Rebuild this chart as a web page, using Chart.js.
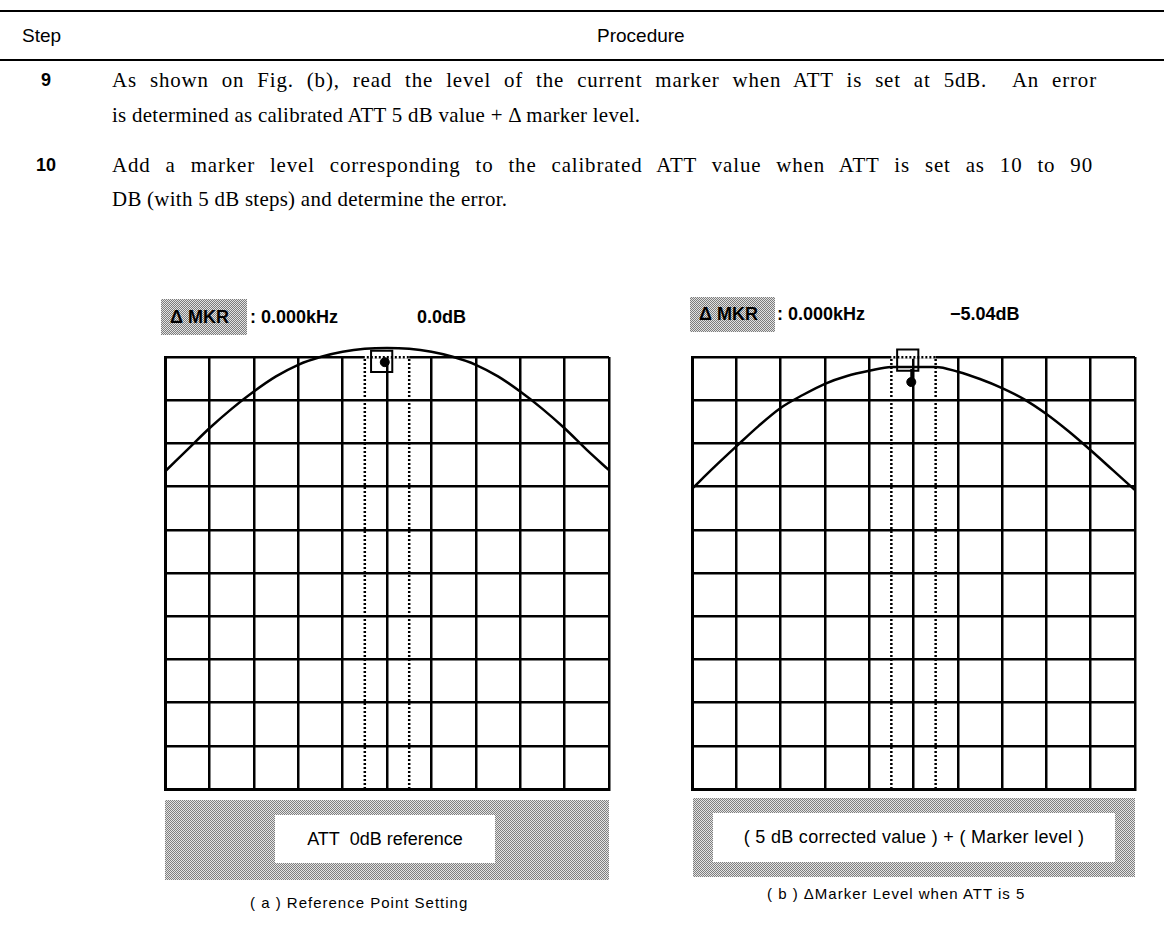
<!DOCTYPE html>
<html>
<head>
<meta charset="utf-8">
<script src="https://cdn.jsdelivr.net/npm/chart.js@4.4.1/dist/chart.umd.min.js"></script>
<style>
  body { margin: 0; background: #fff; width: 1164px; height: 941px; position: relative; overflow: hidden;
         font-family: "Liberation Sans", Arial, sans-serif; color: #000; }
  .t { position: absolute; white-space: nowrap; line-height: 1; }
  .rule { position: absolute; left: 0; width: 1164px; height: 2px; background: #000; }
  .serif { font-family: "Liberation Serif", "Times New Roman", serif; font-size: 22px; transform-origin: 0 50%;
           transform: scaleX(0.95); letter-spacing: 0.3px; }
  .fit { letter-spacing: 0.9px; }
  .num { font-weight: bold; font-size: 18px; }
  .hdr { font-weight: bold; font-size: 18px; }
  .hl { position: absolute; background-color: #c0c0c0;
        background-image: repeating-conic-gradient(#7c7c7c 0 25%, #e2e2e2 0 50%);
        background-size: 2px 2px; }
  .band { position: absolute; background-color: #b0b0b0;
          background-image: repeating-conic-gradient(#7f7f7f 0 25%, #e4e4e4 0 50%);
          background-size: 2px 2px; }
  .box { position: absolute; background: #fff; display: flex; align-items: center; justify-content: center;
         font-size: 18px; white-space: nowrap; }
  .cap { font-size: 15px; letter-spacing: 1px; }
  canvas { position: absolute; }
</style>
</head>
<body>
  <div class="rule" style="top:10px"></div>
  <div class="t" style="left:22px; top:26px; font-size:19px">Step</div>
  <div class="t" style="left:597px; top:26px; font-size:19px">Procedure</div>
  <div class="rule" style="top:59px"></div>

  <div class="t num" style="left:41px; top:71px">9</div>
  <div class="t serif fit" data-w="985" style="left:112px; top:69px">As shown on Fig. (b), read the level of the current marker when ATT is set at 5dB.&nbsp; An error</div>
  <div class="t serif" style="left:112px; top:104px">is determined as calibrated ATT 5 dB value + Δ marker level.</div>
  <div class="t num" style="left:36px; top:156px">10</div>
  <div class="t serif fit" data-w="981" style="left:112px; top:154px">Add a marker level corresponding to the calibrated ATT value when ATT is set as 10 to 90</div>
  <div class="t serif" style="left:112px; top:188px">DB (with 5 dB steps) and determine the error.</div>

  <!-- marker readouts -->
  <div class="hl" style="left:161px; top:299px; width:86px; height:36px"></div>
  <div class="t hdr" style="left:170px; top:308px">Δ MKR</div>
  <div class="t hdr" style="left:250px; top:308px">: 0.000kHz</div>
  <div class="t hdr" style="left:417px; top:308px">0.0dB</div>

  <div class="hl" style="left:690px; top:297px; width:85px; height:35px"></div>
  <div class="t hdr" style="left:699px; top:305px">Δ MKR</div>
  <div class="t hdr" style="left:777px; top:305px">: 0.000kHz</div>
  <div class="t hdr" style="left:950px; top:305px">−5.04dB</div>

  <canvas id="scopeA" width="490" height="490" style="left:140px; top:320px"></canvas>
  <canvas id="scopeB" width="490" height="490" style="left:670px; top:320px"></canvas>

  <div class="band" style="left:165px; top:800px; width:444px; height:80px"></div>
  <div class="box" style="left:275px; top:815px; width:220px; height:48px">ATT&nbsp; 0dB reference</div>
  <div class="band" style="left:693px; top:798px; width:442px; height:79px"></div>
  <div class="box" style="left:713px; top:813px; width:402px; height:49px; letter-spacing:0.3px">( 5 dB corrected value ) + ( Marker level )</div>

  <div class="t cap" style="left:250px; top:895px">( a ) Reference Point Setting</div>
  <div class="t cap" style="left:767px; top:886px">( b ) ΔMarker Level when ATT is 5</div>

<script>
// horizontal divisions (0..10) and trace levels in divisions
const divs = [0, 0.5, 1, 1.5, 2, 2.5, 3, 3.5, 4, 4.5, 5, 5.5, 6, 6.5, 7, 7.5, 8, 8.5, 9, 9.5, 10];
const traceA = [7.35, 7.85, 8.35, 8.8, 9.2, 9.55, 9.82, 10.0, 10.12, 10.19, 10.21,
                10.19, 10.12, 10.0, 9.82, 9.55, 9.2, 8.8, 8.35, 7.85, 7.38];
const traceB = [6.95, 7.45, 7.93, 8.4, 8.82, 9.12, 9.38, 9.56, 9.68, 9.77, 9.77,
                9.77, 9.66, 9.49, 9.28, 9.02, 8.68, 8.28, 7.84, 7.38, 6.92];
const gridTicks = [0, 1, 2, 3, 4, 5, 6, 7, 8, 9, 10];
const dottedX = [4.5, 5.5];

// marker box + marker dot (x div, y div)
const boxA = [4.88, 9.9];
const dotA = [4.95, 9.88];
const boxB = [4.87, 9.93];
const dotB = [4.95, 9.42];
const stemB = [9.72, 9.42];

// justified lines: widen word gaps so the line spans the scanned width
function fitText() {
  document.querySelectorAll('.fit').forEach(el => {
    const w = el.getBoundingClientRect().width;
    const gaps = el.textContent.split(/\s/).length - 1;
    const target = +el.dataset.w;
    if (w > 0 && gaps > 0) el.style.wordSpacing = ((target - w) / 0.95 / gaps).toFixed(3) + 'px';
  });
}

function scope(id, trace, box, dot, stem, pad) {
  const pts = divs.map((x, i) => ({ x: x, y: trace[i] }));
  const sets = [
    { data: pts, showLine: true, borderColor: '#000', borderWidth: 2.5, pointRadius: 0,
      cubicInterpolationMode: 'monotone', clip: false },
    { data: [{ x: box[0], y: box[1] }], pointStyle: 'rect', pointRadius: 15, pointBorderWidth: 2,
      pointBorderColor: '#000', pointBackgroundColor: 'rgba(0,0,0,0)', clip: false },
    { data: [{ x: dot[0], y: dot[1] }], pointStyle: 'circle', pointRadius: 4.5,
      pointBorderColor: '#000', pointBackgroundColor: '#000', clip: false }
  ];
  if (stem) {
    sets.push({ data: stem.map(v => ({ x: dot[0], y: v })), showLine: true, borderColor: '#000',
                borderWidth: 2, pointRadius: 0, clip: false });
  }
  dottedX.forEach(x => {
    sets.push({ data: [{ x: x, y: 0 }, { x: x, y: 10 }], showLine: true, borderColor: '#000',
                borderWidth: 2.5, borderDash: [2, 2], pointRadius: 0 });
  });
  sets.push({ data: dottedX.map(x => ({ x: x, y: 10 })), showLine: true, borderColor: '#fff',
              borderWidth: 3.5, borderDash: [2, 2], pointRadius: 0, clip: false });

  const axis = {
    type: 'linear', min: 0, max: 10,
    afterBuildTicks: s => { s.ticks = gridTicks.map(v => ({ value: v })); },
    ticks: { display: false },
    grid: { color: '#000', lineWidth: 2.5, drawTicks: false },
    border: { color: '#000', width: 3 }
  };

  return new Chart(document.getElementById(id), {
    type: 'scatter',
    data: { datasets: sets },
    options: {
      responsive: false,
      animation: false,
      layout: { padding: pad },
      plugins: { legend: { display: false }, tooltip: { enabled: false } },
      scales: { x: axis, y: Object.assign({}, axis) }
    }
  });
}

document.addEventListener('DOMContentLoaded', () => {
  fitText();
  scope('scopeA', traceA, boxA, dotA, null, { left: 25, top: 37, right: 21, bottom: 21 });
  scope('scopeB', traceB, boxB, dotB, stemB, { left: 22, top: 37, right: 25, bottom: 21 });
});
</script>
</body>
</html>
